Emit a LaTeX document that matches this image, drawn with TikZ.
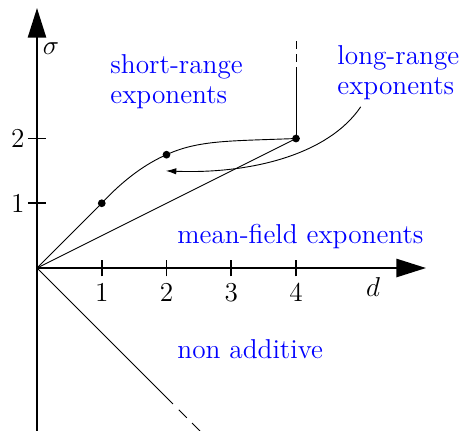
\documentclass[tikz,border=0pt]{standalone}
\usepackage{fontspec}
\usetikzlibrary{arrows.meta}
\tikzset{
  axis/.style={line width=0.8pt, -{Triangle[length=13pt,width=8pt]}},
  tickmark/.style={line width=0.8pt},
  thinline/.style={line width=0.4pt},
  dot/.style={circle, fill=black, inner sep=0pt, minimum size=3.4pt},
  lbl/.style={text=blue, font=\fontsize{12}{13.2}\selectfont, inner sep=0pt, align=left},
  num/.style={font=\large, inner sep=0pt},
}
\begin{document}
\begin{tikzpicture}
\useasboundingbox (-0.5714,-2.5019) rectangle (6.5174,4.1390);
% coordinates
\coordinate (O) at (0,0);
\coordinate (xend) at (6.008,0);
\coordinate (ytop) at (0,4.015);
\coordinate (ybot) at (0,-2.52);
\coordinate (v1) at (4,3.1);
\coordinate (v2) at (4,3.5);
\coordinate (n1) at (2.1,-2.1);
\coordinate (n2) at (2.19,-2.19);
\coordinate (n3) at (2.53,-2.53);
\coordinate (lrs) at (5.0,2.49);
\coordinate (arr) at (1.99,1.5);
% axes
\draw[axis] (ybot) -- (ytop);
\draw[axis] (O) -- (xend);
% ticks
\foreach \k in {1,2,3,4} {
  \draw[tickmark] (\k,-0.13) -- (\k,0.13);
  \node[num, anchor=north] (t\k) at (\k,-0.232) {\k};
}
\foreach \k in {1,2} {
  \draw[tickmark] (-0.14,\k) -- (0.14,\k);
  \node[num, anchor=east] (s\k) at (-0.185,\k) {\k};
}
\node[num] (sig) at (0.216,3.39) {$\sigma$};
\node[num] (dlab) at (5.19,-0.29) {$d$};
% points
\node[dot] (p1) at (1,1) {};
\node[dot] (p2) at (2,1.75) {};
\node[dot] (p3) at (4,2) {};
% curves
\draw[thinline] (O) -- (p1.center);
\draw[thinline] (p1.center) .. controls (1.35,1.38) and (1.7,1.62) .. (p2.center)
  .. controls (2.5,1.98) and (3,1.96) .. (p3.center);
\draw[thinline] (O) -- (p3.center);
\draw[thinline] (p3.center) -- (v1);
\draw[thinline, dash pattern=on 3.5pt off 2.2pt] (v2) -- (v1);
\draw[thinline] (O) -- (n1);
\draw[thinline, dash pattern=on 5pt off 3.2pt] (n2) -- (n3);
% labels
\node[lbl, anchor=north west] (sr) at (1.127,3.30) {short-range\\exponents};
\node[lbl, anchor=north west] (lr) at (4.633,3.444) {long-range\\exponents};
\node[lbl, anchor=base west] (mf) at (2.162,0.386) {mean-field exponents};
\node[lbl, anchor=base west] (na) at (2.162,-1.39) {non additive};
% arrow
\draw[thinline, -{Latex[length=4.6pt,width=2.8pt]}] (lrs) .. controls (4.5,1.75) and (3.3,1.45) .. (arr);
\end{tikzpicture}
\end{document}
